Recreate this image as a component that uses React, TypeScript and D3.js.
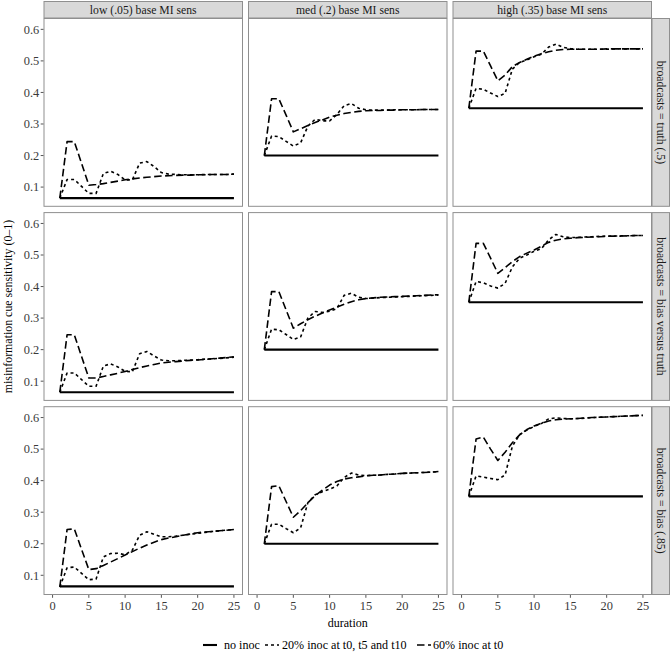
import React from "react";
import * as d3 from "d3";

// ---------- data ----------
const columnLabels = ["low (.05) base MI sens", "med (.2) base MI sens", "high (.35) base MI sens"];
const rowLabels = ["broadcasts = truth (.5)", "broadcasts = bias versus truth", "broadcasts = bias (.85)"];
const seriesLabels = ["no inoc", "20% inoc at t0, t5 and t10", "60% inoc at t0"];
const durations = [1, 2, 3, 4, 5, 6, 7, 8, 9, 10, 11, 12, 13, 14, 15, 16, 17, 18, 19, 20, 21, 22, 23, 24, 25];
const xTicks = [0, 5, 10, 15, 20, 25];
const yTicks = [0.1, 0.2, 0.3, 0.4, 0.5, 0.6];
const xTitle = "duration";
const yTitle = "misinformation cue sensitivity (0\u20131)";

// no inoculation (flat baselines)
const noInocLow = [0.065, 0.065, 0.065, 0.065, 0.065, 0.065, 0.065, 0.065, 0.065, 0.065, 0.065, 0.065, 0.065, 0.065, 0.065, 0.065, 0.065, 0.065, 0.065, 0.065, 0.065, 0.065, 0.065, 0.065, 0.065];
const noInocMed = [0.2, 0.2, 0.2, 0.2, 0.2, 0.2, 0.2, 0.2, 0.2, 0.2, 0.2, 0.2, 0.2, 0.2, 0.2, 0.2, 0.2, 0.2, 0.2, 0.2, 0.2, 0.2, 0.2, 0.2, 0.2];
const noInocHigh = [0.35, 0.35, 0.35, 0.35, 0.35, 0.35, 0.35, 0.35, 0.35, 0.35, 0.35, 0.35, 0.35, 0.35, 0.35, 0.35, 0.35, 0.35, 0.35, 0.35, 0.35, 0.35, 0.35, 0.35, 0.35];

// broadcasts = truth (.5)
const truthLow20 = [0.065, 0.124, 0.124, 0.102, 0.08, 0.08, 0.143, 0.15, 0.14, 0.123, 0.123, 0.176, 0.181, 0.165, 0.146, 0.141, 0.14, 0.139, 0.139, 0.139, 0.14, 0.14, 0.14, 0.14, 0.141];
const truthLow60 = [0.065, 0.244, 0.244, 0.175, 0.106, 0.108, 0.111, 0.115, 0.119, 0.123, 0.126, 0.129, 0.131, 0.133, 0.135, 0.136, 0.137, 0.138, 0.138, 0.139, 0.139, 0.14, 0.14, 0.14, 0.141];
const truthMed20 = [0.2, 0.262, 0.26, 0.245, 0.23, 0.24, 0.293, 0.315, 0.31, 0.31, 0.33, 0.358, 0.365, 0.35, 0.345, 0.344, 0.344, 0.344, 0.345, 0.345, 0.345, 0.345, 0.346, 0.346, 0.346];
const truthMed60 = [0.2, 0.38, 0.38, 0.328, 0.275, 0.285, 0.295, 0.305, 0.313, 0.322, 0.328, 0.333, 0.337, 0.34, 0.342, 0.343, 0.343, 0.344, 0.344, 0.345, 0.345, 0.345, 0.346, 0.346, 0.346];
const truthHigh20 = [0.35, 0.413, 0.41, 0.398, 0.387, 0.397, 0.474, 0.495, 0.503, 0.513, 0.521, 0.544, 0.553, 0.543, 0.539, 0.537, 0.537, 0.537, 0.537, 0.537, 0.538, 0.538, 0.538, 0.538, 0.538];
const truthHigh60 = [0.35, 0.531, 0.531, 0.484, 0.437, 0.455, 0.482, 0.495, 0.505, 0.515, 0.523, 0.529, 0.534, 0.536, 0.537, 0.537, 0.537, 0.537, 0.537, 0.538, 0.538, 0.538, 0.538, 0.538, 0.538];

// broadcasts = bias versus truth
const mixedLow20 = [0.065, 0.126, 0.126, 0.105, 0.084, 0.084, 0.148, 0.155, 0.145, 0.131, 0.13, 0.187, 0.194, 0.18, 0.167, 0.165, 0.165, 0.166, 0.167, 0.168, 0.17, 0.171, 0.172, 0.174, 0.176];
const mixedLow60 = [0.065, 0.247, 0.247, 0.178, 0.11, 0.11, 0.115, 0.12, 0.125, 0.131, 0.137, 0.143, 0.148, 0.153, 0.158, 0.16, 0.162, 0.164, 0.166, 0.167, 0.169, 0.171, 0.173, 0.175, 0.177];
const mixedMed20 = [0.2, 0.265, 0.263, 0.248, 0.232, 0.24, 0.3, 0.321, 0.318, 0.322, 0.33, 0.372, 0.379, 0.366, 0.362, 0.363, 0.365, 0.366, 0.367, 0.368, 0.369, 0.37, 0.371, 0.372, 0.373];
const mixedMed60 = [0.2, 0.384, 0.384, 0.326, 0.268, 0.282, 0.295, 0.306, 0.316, 0.326, 0.335, 0.344, 0.352, 0.358, 0.362, 0.364, 0.366, 0.367, 0.368, 0.369, 0.37, 0.371, 0.372, 0.373, 0.374];
const mixedHigh20 = [0.35, 0.416, 0.412, 0.402, 0.395, 0.41, 0.462, 0.49, 0.5, 0.512, 0.52, 0.548, 0.565, 0.558, 0.555, 0.556, 0.557, 0.558, 0.559, 0.56, 0.56, 0.561, 0.561, 0.562, 0.562];
const mixedHigh60 = [0.35, 0.537, 0.537, 0.49, 0.442, 0.46, 0.479, 0.495, 0.506, 0.516, 0.528, 0.54, 0.547, 0.551, 0.553, 0.555, 0.556, 0.557, 0.558, 0.559, 0.56, 0.56, 0.561, 0.562, 0.562];

// broadcasts = bias (.85)
const biasLow20 = [0.063, 0.124, 0.126, 0.106, 0.086, 0.088, 0.158, 0.169, 0.17, 0.165, 0.18, 0.227, 0.238, 0.23, 0.222, 0.222, 0.224, 0.227, 0.23, 0.233, 0.236, 0.239, 0.241, 0.243, 0.245];
const biasLow60 = [0.063, 0.245, 0.247, 0.182, 0.118, 0.121, 0.131, 0.142, 0.153, 0.164, 0.175, 0.186, 0.196, 0.205, 0.213, 0.218, 0.222, 0.227, 0.231, 0.235, 0.237, 0.239, 0.241, 0.243, 0.245];
const biasMed20 = [0.2, 0.262, 0.262, 0.248, 0.235, 0.25, 0.33, 0.355, 0.365, 0.373, 0.383, 0.41, 0.424, 0.418, 0.416, 0.417, 0.418, 0.42, 0.421, 0.423, 0.424, 0.425, 0.426, 0.427, 0.429];
const biasMed60 = [0.2, 0.381, 0.384, 0.334, 0.284, 0.305, 0.33, 0.352, 0.37, 0.386, 0.397, 0.405, 0.409, 0.412, 0.415, 0.417, 0.418, 0.42, 0.421, 0.423, 0.424, 0.425, 0.426, 0.427, 0.429];
const biasHigh20 = [0.35, 0.415, 0.411, 0.407, 0.403, 0.418, 0.509, 0.546, 0.56, 0.572, 0.581, 0.596, 0.599, 0.597, 0.596, 0.597, 0.598, 0.6, 0.601, 0.602, 0.603, 0.604, 0.605, 0.606, 0.607];
const biasHigh60 = [0.35, 0.532, 0.538, 0.5, 0.464, 0.49, 0.52, 0.545, 0.562, 0.573, 0.582, 0.589, 0.593, 0.595, 0.596, 0.597, 0.599, 0.6, 0.601, 0.602, 0.603, 0.604, 0.605, 0.606, 0.607];

const noInocByColumn = [noInocLow, noInocMed, noInocHigh];
const inoc20 = [
  [truthLow20, truthMed20, truthHigh20],
  [mixedLow20, mixedMed20, mixedHigh20],
  [biasLow20, biasMed20, biasHigh20],
];
const inoc60 = [
  [truthLow60, truthMed60, truthHigh60],
  [mixedLow60, mixedMed60, mixedHigh60],
  [biasLow60, biasMed60, biasHigh60],
];

// ---------- layout / style ----------
const W = 671;
const H = 652;
const panelLeft = 43.5;
const panelTop = 18;
const panelW = 199.5;
const panelH = 188.8;
const gapX = 5;
const gapY = 5.3;
const stripH = 17;
const stripW = 18;
const FONT = "'Liberation Serif', 'Times New Roman', serif";
const borderColor = "#8f8f8f";
const stripFill = "#d9d9d9";
const seriesStyles = [
  { dash: "none", width: 2.1 },
  { dash: "3,3", width: 1.6 },
  { dash: "7.5,3.5", width: 1.6 },
];

const x = d3.scaleLinear().domain([-1.25, 26.25]).range([0, panelW]);
const y = d3.scaleLinear().domain([0.0375, 0.636]).range([panelH, 0]);

const lineGen = d3
  .line<number>()
  .x((_, i) => x(durations[i]))
  .y((v) => y(v));

export default function App() {
  const colX = (c: number) => panelLeft + c * (panelW + gapX);
  const rowY = (r: number) => panelTop + r * (panelH + gapY);
  const rightEdge = colX(2) + panelW;
  const bottomEdge = rowY(2) + panelH;
  const centerX = (panelLeft + rightEdge) / 2;
  const centerY = (panelTop + bottomEdge) / 2;

  const legendKeyX = [203, 265, 417];
  const legendTextX = [224, 282, 433];
  const legendY = 645;

  return (
    <svg
      width={W}
      height={H}
      style={{ position: "absolute", left: 0, top: 0, display: "block", background: "#fff" }}
      fontFamily={FONT}
    >
      <rect x={0} y={0} width={W} height={H} fill="#fff" />
      {/* column strips */}
      {columnLabels.map((lab, c) => (
        <g key={"cs" + c} transform={`translate(${colX(c)},${panelTop - stripH})`}>
          <rect x={0.5} y={0.5} width={panelW - 1} height={stripH - 0.5} fill={stripFill} stroke={borderColor} strokeWidth={1} />
          <text x={panelW / 2} y={stripH / 2 + 4} textAnchor="middle" fontSize={11.7} fill="#1a1a1a">
            {lab}
          </text>
        </g>
      ))}
      {/* row strips */}
      {rowLabels.map((lab, r) => (
        <g key={"rs" + r} transform={`translate(${rightEdge},${rowY(r)})`}>
          <rect x={0} y={0.5} width={stripW - 0.5} height={panelH - 1} fill={stripFill} stroke={borderColor} strokeWidth={1} />
          <text
            transform={`translate(${stripW / 2},${panelH / 2}) rotate(90)`}
            textAnchor="middle"
            dy="0.35em"
            fontSize={11.7}
            fill="#1a1a1a"
          >
            {lab}
          </text>
        </g>
      ))}
      {/* panels */}
      {rowLabels.map((_, r) =>
        columnLabels.map((__, c) => {
          const series = [noInocByColumn[c], inoc20[r][c], inoc60[r][c]];
          return (
            <g key={`p${r}-${c}`} transform={`translate(${colX(c)},${rowY(r)})`}>
              <rect x={0} y={0} width={panelW} height={panelH} fill="#fff" />
              {series.map((vals, s) => (
                <path
                  key={s}
                  d={lineGen(vals) || ""}
                  fill="none"
                  stroke="#000"
                  strokeWidth={seriesStyles[s].width}
                  strokeDasharray={seriesStyles[s].dash}
                  strokeLinejoin="round"
                />
              ))}
              <rect x={0.5} y={0.5} width={panelW - 1} height={panelH - 1} fill="none" stroke={borderColor} strokeWidth={1} />
              {c === 0 &&
                yTicks.map((t) => (
                  <g key={"yt" + t} transform={`translate(0,${y(t)})`}>
                    <line x1={-2.8} x2={0} stroke="#555" strokeWidth={1} />
                    <text x={-4.3} dy="0.35em" textAnchor="end" fontSize={12.4} fill="#3a3a3a">
                      {d3.format(".1f")(t)}
                    </text>
                  </g>
                ))}
              {r === 2 &&
                xTicks.map((t) => (
                  <g key={"xt" + t} transform={`translate(${x(t)},${panelH})`}>
                    <line y1={0} y2={2.8} stroke="#555" strokeWidth={1} />
                    <text y={14.5} textAnchor="middle" fontSize={12.4} fill="#3a3a3a">
                      {t}
                    </text>
                  </g>
                ))}
            </g>
          );
        })
      )}
      {/* axis titles */}
      <text x={centerX} y={bottomEdge + 31.5} textAnchor="middle" fontSize={12} fill="#000">
        {xTitle}
      </text>
      <text
        transform={`translate(${8},${centerY}) rotate(-90)`}
        textAnchor="middle"
        dy="0.35em"
        fontSize={11.9}
        fill="#000"
      >
        {yTitle}
      </text>
      {/* legend */}
      {seriesLabels.map((lab, s) => (
        <g key={"lg" + s}>
          <line
            x1={legendKeyX[s]}
            x2={legendKeyX[s] + 14}
            y1={legendY}
            y2={legendY}
            stroke="#000"
            strokeWidth={seriesStyles[s].width}
            strokeDasharray={seriesStyles[s].dash}
          />
          <text x={legendTextX[s]} y={legendY} dy="0.35em" fontSize={12.1} fill="#000">
            {lab}
          </text>
        </g>
      ))}
    </svg>
  );
}
